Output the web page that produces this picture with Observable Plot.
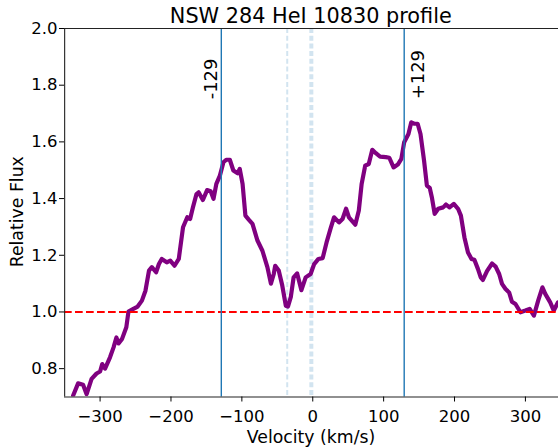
<!DOCTYPE html>
<html>
<head>
<meta charset="utf-8">
<script src="https://cdn.jsdelivr.net/npm/d3@7"></script>
<script src="https://cdn.jsdelivr.net/npm/@observablehq/plot@0.6"></script>
<style>
  html, body { margin: 0; padding: 0; background: white; }
  #chart { width: 558px; height: 447px; }
</style>
</head>
<body>
<div id="chart"></div>
<script>
// ---- data ----
const velocity = [
  -338, -331, -324, -319, -312, -305, -300, -297, -293, -286, -281, -277, -274, -269, -263, -260,
  -253, -247, -241, -236, -231, -227, -221, -217, -213, -206, -201, -195, -189, -183, -177, -173,
  -169, -164, -161, -155, -149, -144, -140, -136, -131, -126, -122, -117, -112, -106, -103, -99,
  -95, -90, -85, -78, -71, -64, -59, -55, -53, -48, -43, -38, -35, -31, -27, -22, -16, -10, -3,
  2, 8, 14, 20, 25, 30, 37, 42, 47, 51, 60, 65, 69, 74, 79, 84, 89, 95, 103, 108, 114, 120, 125,
  129, 135, 139, 143, 148, 152, 157, 161, 165, 168, 172, 177, 184, 188, 193, 199, 205, 209, 214,
  219, 224, 228, 233, 237, 240, 246, 253, 258, 263, 267, 272, 277, 281, 286, 293, 300, 306, 312,
  318, 324, 328, 335, 340, 346
];
const flux = [
  0.705, 0.748, 0.743, 0.710, 0.764, 0.783, 0.790, 0.816, 0.800, 0.840, 0.875, 0.910, 0.889, 0.905, 0.946, 1.001,
  1.011, 1.019, 1.040, 1.075, 1.146, 1.158, 1.140, 1.169, 1.187, 1.175, 1.181, 1.163, 1.187, 1.299, 1.334, 1.328,
  1.369, 1.416, 1.422, 1.395, 1.430, 1.426, 1.399, 1.452, 1.481, 1.528, 1.537, 1.537, 1.499, 1.489, 1.505, 1.452,
  1.340, 1.325, 1.311, 1.252, 1.216, 1.158, 1.100, 1.134, 1.163, 1.146, 1.093, 1.022, 1.019, 1.052, 1.122, 1.136, 1.077, 1.122, 1.134,
  1.169, 1.187, 1.190, 1.250, 1.293, 1.334, 1.316, 1.328, 1.364, 1.334, 1.308, 1.358, 1.452, 1.516, 1.522, 1.572, 1.560, 1.548, 1.546, 1.544, 1.510, 1.520, 1.540,
  1.599, 1.628, 1.669, 1.664, 1.664, 1.628, 1.534, 1.446, 1.438, 1.405, 1.346, 1.364, 1.369, 1.379, 1.369, 1.381, 1.364, 1.340, 1.263,
  1.210, 1.187, 1.184, 1.152, 1.122, 1.113, 1.145, 1.171, 1.160, 1.134, 1.099, 1.081, 1.069, 1.036, 1.028, 0.999, 1.005, 1.011, 0.987,
  1.040, 1.087, 1.064, 1.034, 1.005, 1.034
];
const continuum = [1.0];
const markerVelocities = [-129, 129];
const markerLabels = ["-129", "+129"];
const thinDashVelocity = [-36];
const thickDashVelocity = [-2];
const xTicks = [-300, -200, -100, 0, 100, 200, 300];
const yTicks = [0.8, 1.0, 1.2, 1.4, 1.6, 1.8, 2.0];
const xDomain = [-350, 350];
const yDomain = [0.7, 2.0];
const titleText = "NSW 284 HeI 10830 profile";
const xLabel = "Velocity (km/s)";
const yLabel = "Relative Flux";

const profile = velocity.map((v, i) => ({v, f: flux[i]}));
const fmtX = d => d < 0 ? "\u2212" + Math.abs(d) : String(d);

const chart = Plot.plot({
  width: 558,
  height: 447,
  marginTop: 28,
  marginBottom: 50.5,
  marginLeft: 64,
  marginRight: 0,
  style: {fontFamily: "'DejaVu Sans', sans-serif", fontSize: "16.5px", color: "black", background: "white", overflow: "visible"},
  x: {domain: xDomain, range: [64.15, 560.35], label: null},
  y: {domain: yDomain, range: [396.5, 28], label: null},
  marks: [
    Plot.ruleX(thinDashVelocity, {stroke: "#d2e4f0", strokeWidth: 2, strokeDasharray: "5,2.7"}),
    Plot.ruleX(thickDashVelocity, {stroke: "#d2e4f0", strokeWidth: 4, strokeDasharray: "5,2.7"}),
    Plot.line(profile, {x: "v", y: "f", stroke: "#800080", strokeWidth: 4.2, clip: true, curve: "linear", strokeLinejoin: "round"}),
    Plot.ruleY(continuum, {stroke: "red", strokeWidth: 2.1, strokeDasharray: "7.7,3.3"}),
    Plot.ruleX(markerVelocities, {stroke: "#1f77b4", strokeWidth: 1.4}),
    // spines (right spine lies outside the cropped picture)
    Plot.ruleY([yDomain[0], yDomain[1]], {stroke: "#222", strokeWidth: 1.1}),
    Plot.ruleX([xDomain[0]], {stroke: "#222", strokeWidth: 1.1}),
    Plot.axisX({ticks: xTicks, tickFormat: fmtX, tickSize: 5, tickPadding: 8, fontSize: 16.5, label: null}),
    Plot.axisY({ticks: yTicks, tickFormat: d3.format(".1f"), tickSize: 5, tickPadding: 2, fontSize: 16.5, label: null}),
    Plot.text([markerLabels[0]], {x: [markerVelocities[0]], y: [1.75], rotate: -90, textAnchor: "start", lineAnchor: "bottom", dx: -4.1, fontSize: 18, fill: "black"}),
    Plot.text([markerLabels[1]], {x: [markerVelocities[1]], y: [1.75], rotate: -90, textAnchor: "start", lineAnchor: "bottom", dx: 19.6, fontSize: 18, fill: "black"}),
    Plot.text([titleText], {frameAnchor: "top", lineAnchor: "bottom", dy: -5.5, dx: -0.7, fontSize: 20.8, fill: "black"}),
    Plot.text([xLabel], {frameAnchor: "bottom", lineAnchor: "bottom", dy: 46, dx: -0.5, fontSize: 17.3, fill: "black"}),
    Plot.text([yLabel], {frameAnchor: "left", rotate: -90, textAnchor: "middle", lineAnchor: "bottom", dx: -41.3, dy: -1, fontSize: 17.3, fill: "black"})
  ]
});
document.getElementById("chart").appendChild(chart);
</script>
</body>
</html>
